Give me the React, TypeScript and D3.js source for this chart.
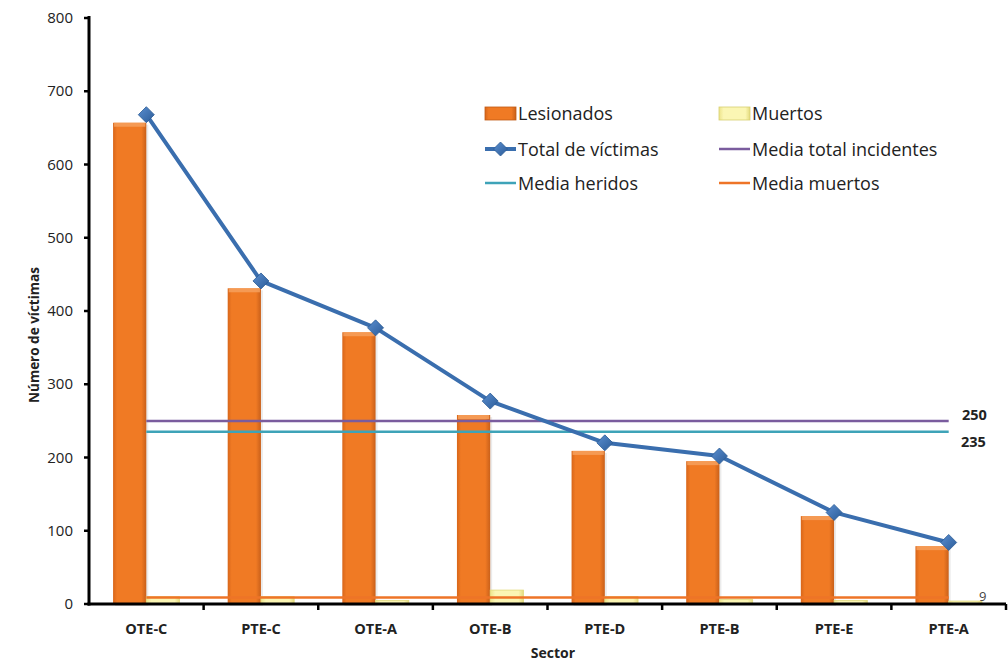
import React from "react";
import * as d3 from "d3";

const categories = ["OTE-C", "PTE-C", "OTE-A", "OTE-B", "PTE-D", "PTE-B", "PTE-E", "PTE-A"];
const lesionados = [657, 431, 371, 258, 209, 195, 120, 79];
const muertos = [10, 10, 5, 19, 10, 6, 5, 4];
const totalVictimas = [668, 441, 377, 277, 220, 202, 125, 84];
const mediaTotal = 250;
const mediaHeridos = 235;
const mediaMuertos = 9;
const yTicks = [0, 100, 200, 300, 400, 500, 600, 700, 800];

const W = 1008;
const H = 663;
const FONT = "'Open Sans', Lato, sans-serif";

export default function App() {
  const x = d3.scaleBand<string>().domain(categories).range([89, 1006]).padding(0);
  const y = d3.scaleLinear().domain([0, 800]).range([604, 18]);
  const bw = x.bandwidth() * 0.29;
  const cx = (c: string) => (x(c) as number) + x.bandwidth() / 2;
  const xFirst = cx(categories[0]);
  const xLast = cx(categories[categories.length - 1]);
  const line = d3
    .line<number>()
    .x((_, i) => cx(categories[i]))
    .y((d) => y(d));

  const diamond = (px: number, py: number, r: number) =>
    `M${px},${py - r}L${px + r},${py}L${px},${py + r}L${px - r},${py}Z`;

  return (
    <svg
      width={W}
      height={H}
      style={{ position: "absolute", left: 0, top: 0, background: "#fff" }}
      fontFamily={FONT}
    >
      <defs>
        <linearGradient id="gOrange" x1="0" x2="1" y1="0" y2="0">
          <stop offset="0" stopColor="#D8661A" />
          <stop offset="0.12" stopColor="#F07A24" />
          <stop offset="0.85" stopColor="#F07A24" />
          <stop offset="1" stopColor="#C9601A" />
        </linearGradient>
        <linearGradient id="gYellow" x1="0" x2="1" y1="0" y2="0">
          <stop offset="0" stopColor="#EDE48A" />
          <stop offset="0.15" stopColor="#FBF6B4" />
          <stop offset="0.85" stopColor="#FBF6B4" />
          <stop offset="1" stopColor="#E4DB7E" />
        </linearGradient>
        <linearGradient id="gBlue" x1="0" x2="1" y1="0" y2="1">
          <stop offset="0" stopColor="#5A8ED0" />
          <stop offset="1" stopColor="#2C5C98" />
        </linearGradient>
      </defs>

      {/* bars */}
      {categories.map((c, i) => {
        const c0 = cx(c);
        const yl = y(lesionados[i]);
        const ym = y(muertos[i]);
        return (
          <g key={c}>
            <rect x={c0 - bw + 2} y={yl + 2} width={bw} height={y(0) - yl} fill="#000" opacity={0.08} />
            <rect x={c0 - bw} y={yl} width={bw} height={y(0) - yl} fill="url(#gOrange)" />
            <rect x={c0 - bw + 1} y={yl} width={bw - 2} height={4} fill="#F6A260" opacity={0.8} />
            <rect x={c0} y={ym} width={bw} height={y(0) - ym} fill="url(#gYellow)" stroke="#E2D97A" strokeWidth={0.8} />
          </g>
        );
      })}

      {/* mean lines */}
      <line x1={xFirst} x2={xLast} y1={y(mediaTotal)} y2={y(mediaTotal)} stroke="#7A5C9E" strokeWidth={2.5} />
      <line x1={xFirst} x2={xLast} y1={y(mediaHeridos)} y2={y(mediaHeridos)} stroke="#3EA3B8" strokeWidth={2.5} />
      <line x1={xFirst} x2={xLast} y1={y(mediaMuertos)} y2={y(mediaMuertos)} stroke="#EE7427" strokeWidth={2.5} />

      <text x={962} y={y(mediaTotal) - 1} fontSize={14.5} fontWeight="bold" fill="#222">
        {mediaTotal}
      </text>
      <text x={961} y={y(mediaHeridos) + 15} fontSize={14.5} fontWeight="bold" fill="#222">
        {mediaHeridos}
      </text>
      <text x={979} y={y(mediaMuertos) + 4} fontSize={13} fill="#444">
        {mediaMuertos}
      </text>

      {/* total line */}
      <path d={line(totalVictimas) as string} fill="none" stroke="#3A6EAE" strokeWidth={4} strokeLinejoin="round" />
      {totalVictimas.map((v, i) => (
        <path key={i} d={diamond(cx(categories[i]), y(v), 8)} fill="url(#gBlue)" stroke="#2A5A94" strokeWidth={0.8} />
      ))}

      {/* axes */}
      <line x1={89} x2={89} y1={16} y2={605.5} stroke="#000" strokeWidth={3} />
      <line x1={87.5} x2={1006} y1={604} y2={604} stroke="#000" strokeWidth={3} />
      {yTicks.map((t) => (
        <g key={t}>
          <line x1={84} x2={89} y1={y(t)} y2={y(t)} stroke="#000" strokeWidth={2.5} />
          <text x={73} y={y(t) + 5} fontSize={15} textAnchor="end" fill="#222">
            {t}
          </text>
        </g>
      ))}
      {categories.map((c) => (
        <line
          key={c}
          x1={(x(c) as number) + x.bandwidth()}
          x2={(x(c) as number) + x.bandwidth()}
          y1={604}
          y2={610}
          stroke="#000"
          strokeWidth={2.5}
        />
      ))}
      {categories.map((c) => (
        <text key={c} x={cx(c)} y={634} fontSize={14.5} fontWeight="bold" textAnchor="middle" fill="#222">
          {c}
        </text>
      ))}
      <text x={553} y={658} fontSize={14} fontWeight="bold" textAnchor="middle" fill="#222">
        Sector
      </text>
      <text
        transform={`translate(39,${335}) rotate(-90)`}
        fontSize={13.5}
        fontWeight="bold"
        textAnchor="middle"
        fill="#222"
      >
        Número de víctimas
      </text>

      {/* legend */}
      <g fontSize={18} fill="#222">
        <rect x={485} y={107} width={31} height={13} fill="url(#gOrange)" stroke="#C05A14" strokeWidth={0.8} />
        <text x={518} y={120}>Lesionados</text>
        <rect x={719} y={107} width={31} height={13} fill="url(#gYellow)" stroke="#D8CF70" strokeWidth={0.8} />
        <text x={752} y={120}>Muertos</text>

        <line x1={485} x2={516} y1={149} y2={149} stroke="#3A6EAE" strokeWidth={4} />
        <path d={diamond(500.5, 149, 7)} fill="url(#gBlue)" stroke="#2A5A94" strokeWidth={0.8} />
        <text x={518} y={155.5}>Total de víctimas</text>
        <line x1={719} x2={750} y1={149} y2={149} stroke="#7A5C9E" strokeWidth={2.5} />
        <text x={752} y={155.5}>Media total incidentes</text>

        <line x1={485} x2={516} y1={183} y2={183} stroke="#3EA3B8" strokeWidth={2.5} />
        <text x={518} y={189.5}>Media heridos</text>
        <line x1={719} x2={750} y1={183} y2={183} stroke="#EE7427" strokeWidth={2.5} />
        <text x={752} y={189.5}>Media muertos</text>
      </g>
    </svg>
  );
}
